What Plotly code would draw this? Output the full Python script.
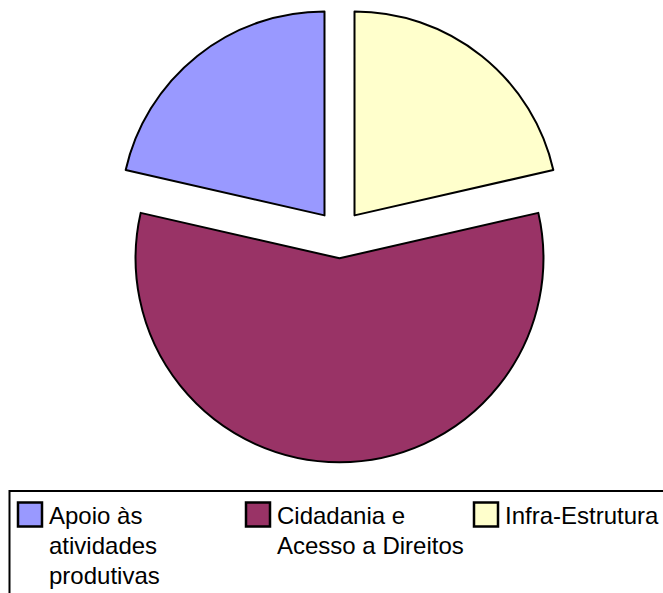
import plotly.graph_objects as go

labels = ["Apoio às<br>atividades<br>produtivas", "Cidadania e<br>Acesso a Direitos", "Infra-Estrutura"]
values = [3, 8, 3]
colors = ["#9999FF", "#993366", "#FFFFCC"]

W, H = 663, 593


def px_x(x):
    return x / W


def px_y(y):
    return 1 - y / H


# counterclockwise pies end their first slice at 12 o'clock; rotate so it starts there
first_share = values[0] / sum(values)

fig = go.Figure()
fig.add_trace(go.Pie(
    labels=labels,
    values=values,
    sort=False,
    direction="counterclockwise",
    rotation=-360 * first_share,
    pull=[0.118, 0.118, 0.118],
    marker=dict(colors=colors, line=dict(color="black", width=2)),
    textinfo="none",
    hoverinfo="label+percent",
    showlegend=False,
    domain=dict(x=[px_x(111.5), px_x(567.5)], y=[px_y(462.2), px_y(6.2)]),
))

shapes = [
    dict(type="rect", xref="paper", yref="paper",
         x0=px_x(9.5), x1=1.05, y0=-0.05, y1=px_y(491),
         line=dict(color="black", width=2), fillcolor="rgba(0,0,0,0)"),
]
annotations = []
for i, (lab, col) in enumerate(zip(labels, colors)):
    sx = 18 + 228 * i
    shapes.append(dict(type="rect", xref="paper", yref="paper",
                       x0=px_x(sx), x1=px_x(sx + 24), y0=px_y(526.5), y1=px_y(502.5),
                       line=dict(color="black", width=2.5), fillcolor=col))
    for k, line in enumerate(lab.split("<br>")):
        annotations.append(dict(text=line, xref="paper", yref="paper",
                                x=px_x(sx + 29), y=px_y(500 + 30 * k),
                                xanchor="left", yanchor="top",
                                align="left", showarrow=False,
                                font=dict(family="Liberation Sans, Arial", size=24, color="black")))

fig.update_layout(
    width=W, height=H,
    margin=dict(l=0, r=0, t=0, b=0),
    paper_bgcolor="white",
    plot_bgcolor="white",
    shapes=shapes,
    annotations=annotations,
    showlegend=False,
)

fig.write_html("out.html", config={"displayModeBar": False},
               post_script="document.body.style.margin='0';")
